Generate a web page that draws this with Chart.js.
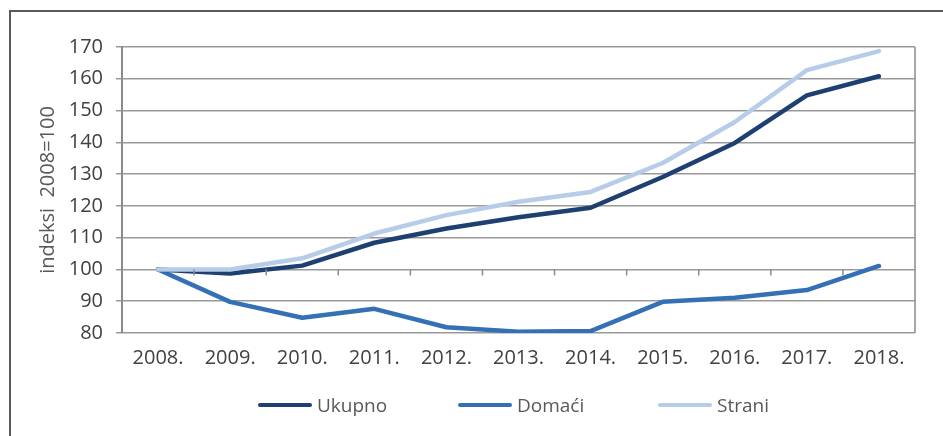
<!DOCTYPE html>
<html>
<head>
<meta charset="utf-8">
<script src="https://cdn.jsdelivr.net/npm/chart.js@4.4.0/dist/chart.umd.min.js"></script>
<style>
  html, body { margin: 0; padding: 0; width: 943px; height: 436px; overflow: hidden; background: #fff; }
  #frame { position: absolute; left: 9px; top: 10px; width: 1000px; height: 500px; border: 2px solid #5a5a5a; box-sizing: border-box; }
  #chart { position: absolute; left: 0; top: 0; }
  #legend { position: absolute; left: 258px; top: 392px; display: flex; font-family: "Open Sans", sans-serif; font-size: 19px; color: #595959; }
  .item { width: 200px; display: flex; align-items: center; height: 26px; }
  .swatch { width: 54px; height: 4px; border-radius: 2px; margin-right: 5px; }
</style>
</head>
<body>
<div id="frame"></div>
<canvas id="chart" width="943" height="436"></canvas>
<div id="legend"></div>
<script>
const years = ["2008.", "2009.", "2010.", "2011.", "2012.", "2013.", "2014.", "2015.", "2016.", "2017.", "2018."];
const ukupno = [100, 98.7, 101.2, 108.4, 112.9, 116.4, 119.4, 129.1, 139.8, 154.8, 160.8];
const domaci = [100, 89.8, 84.8, 87.6, 81.8, 80.4, 80.6, 89.8, 91.1, 93.5, 101.1];
const strani = [100, 100, 103.5, 111.3, 117.1, 121.3, 124.4, 133.5, 146.4, 162.7, 168.7];
const seriesNames = ["Ukupno", "Domaći", "Strani"];
const seriesColors = ["#1d3f71", "#3470b6", "#b6cce8"];
const yMin = 80;
const yMax = 170;
const yStep = 10;
const axisCross = 100;

// small category ticks on the 100 line plus the right edge of the plot
const axisMarks = {
  id: "axisMarks",
  afterDatasetsDraw(chart) {
    const { ctx, chartArea, scales } = chart;
    const y = scales.y.getPixelForValue(axisCross);
    ctx.save();
    ctx.strokeStyle = "#8c8c8c";
    ctx.lineWidth = 1.5;
    ctx.beginPath();
    for (let i = 0; i <= years.length; i++) {
      const x = scales.x.getPixelForValue(i - 0.5);
      ctx.moveTo(x, y);
      ctx.lineTo(x, y + 6);
    }
    ctx.moveTo(chartArea.right, chartArea.top);
    ctx.lineTo(chartArea.right, chartArea.bottom);
    ctx.stroke();
    ctx.restore();
  }
};

function line(label, data, color, order) {
  return {
    label,
    data,
    borderColor: color,
    backgroundColor: color,
    borderWidth: 4.5,
    borderCapStyle: "round",
    borderJoinStyle: "round",
    pointRadius: 0,
    tension: 0,
    order
  };
}

const chart = new Chart(document.getElementById("chart"), {
  type: "line",
  data: {
    labels: years,
    datasets: [
      line(seriesNames[0], ukupno, seriesColors[0], 1),
      line(seriesNames[1], domaci, seriesColors[1], 2),
      line(seriesNames[2], strani, seriesColors[2], 0)
    ]
  },
  options: {
    responsive: false,
    animation: false,
    devicePixelRatio: 1,
    layout: { padding: { top: 47, right: 28, bottom: 58, left: 0 } },
    plugins: { legend: { display: false }, tooltip: { enabled: false } },
    scales: {
      x: {
        offset: true,
        grid: { display: false, drawTicks: false },
        border: { display: false },
        ticks: {
          padding: 13,
          color: "#404040",
          maxRotation: 0,
          font: { family: "\"Open Sans\", sans-serif", size: 20 }
        },
        afterFit(scale) { scale.height = 45; }
      },
      y: {
        min: yMin,
        max: yMax,
        grid: { color: "#9a9a9a", lineWidth: 1.5, tickLength: 6 },
        border: { color: "#8a8a8a", width: 2 },
        ticks: {
          stepSize: yStep,
          padding: 13,
          color: "#404040",
          font: { family: "\"Open Sans\", sans-serif", size: 20 }
        },
        title: {
          display: true,
          text: "indeksi  2008=100",
          color: "#595959",
          padding: { top: 36, bottom: 0 },
          font: { family: "\"Open Sans\", sans-serif", size: 20 }
        },
        afterFit(scale) { scale.width = 122; }
      }
    }
  },
  plugins: [axisMarks]
});

const legend = document.getElementById("legend");
seriesNames.forEach((name, i) => {
  const item = document.createElement("div");
  item.className = "item";
  const swatch = document.createElement("span");
  swatch.className = "swatch";
  swatch.style.background = seriesColors[i];
  const text = document.createElement("span");
  text.textContent = name;
  item.appendChild(swatch);
  item.appendChild(text);
  legend.appendChild(item);
});
</script>
</body>
</html>
